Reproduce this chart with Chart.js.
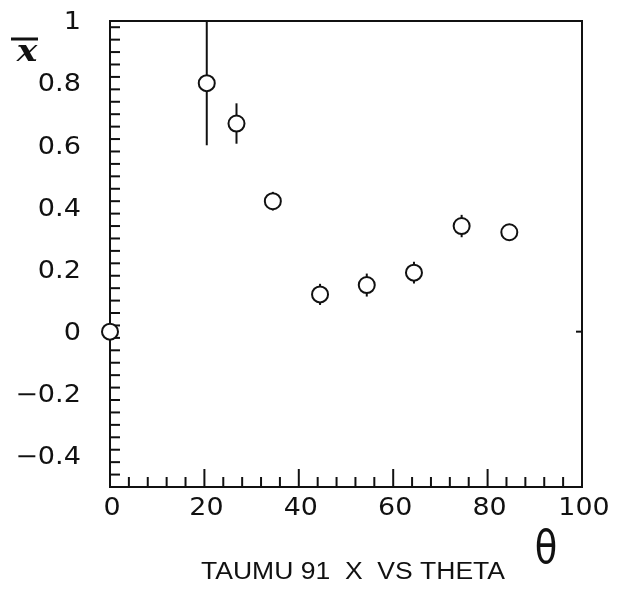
<!DOCTYPE html>
<html>
<head>
<meta charset="utf-8">
<script src="https://cdn.jsdelivr.net/npm/chart.js@4.4.1/dist/chart.umd.min.js"></script>
<style>
  html, body { margin: 0; padding: 0; background: #fff; }
  #wrap { width: 619px; height: 597px; }
</style>
</head>
<body>
<div id="wrap"><canvas id="plot"></canvas></div>
<script>
// measured values: theta (deg), mean x, error
const theta = [0, 20.5, 26.8, 34.5, 44.5, 54.4, 64.4, 74.5, 84.6];
const xbar = [0, 0.80, 0.67, 0.42, 0.12, 0.15, 0.19, 0.34, 0.32];
const xerr = [0, 0.20, 0.065, 0.03, 0.034, 0.037, 0.035, 0.036, 0];

const xTicks = [0, 20, 40, 60, 80, 100];
const yTicks = [1, 0.8, 0.6, 0.4, 0.2, 0, -0.2, -0.4];
const xMinorStep = 4;
const yMinorStep = 0.04;

const FONT = '"DejaVu Sans", sans-serif';

// text squeezed or stretched horizontally around its anchor
function wideText(ctx, s, x, y, sx, align) {
    const w = ctx.measureText(s).width * sx;
    let left = x;
    if (align === 'right') left = x - w;
    else if (align === 'center') left = x - w / 2;
    ctx.save();
    ctx.translate(left, y);
    ctx.scale(sx, 1);
    ctx.textAlign = 'left';
    ctx.fillText(s, 0, 0);
    ctx.restore();
}

// frame, inward ticks, labels and error bars
const framePlugin = {
    id: 'frame',
    beforeDatasetsDraw(chart) {
        const ctx = chart.ctx;
        const xs = chart.scales.x, ys = chart.scales.y;
        const a = chart.chartArea;
        ctx.save();
        ctx.strokeStyle = '#111';
        ctx.lineWidth = 2;

        // error bars, clipped to the frame
        ctx.save();
        ctx.beginPath();
        ctx.rect(a.left, a.top, a.right - a.left, a.bottom - a.top);
        ctx.clip();
        theta.forEach((t, i) => {
            if (!xerr[i]) return;
            const px = xs.getPixelForValue(t);
            ctx.beginPath();
            ctx.moveTo(px, ys.getPixelForValue(xbar[i] + xerr[i]));
            ctx.lineTo(px, ys.getPixelForValue(xbar[i] - xerr[i]));
            ctx.stroke();
        });
        ctx.restore();

        // box
        ctx.strokeRect(a.left, a.top, a.right - a.left, a.bottom - a.top);

        // y ticks on the left axis
        for (let k = 0; k <= Math.round(1.5 / yMinorStep); k++) {
            const r = Math.round((-0.5 + k * yMinorStep) * 100) / 100;
            if (r > 1) break;
            if (Math.abs(r + 0.5) < 1e-6 || Math.abs(r - 1) < 1e-6) continue;
            const major = Math.abs(r * 5 - Math.round(r * 5)) < 1e-6;
            const py = ys.getPixelForValue(r);
            ctx.beginPath();
            ctx.moveTo(a.left, py);
            ctx.lineTo(a.left + (major ? 18 : 10), py);
            ctx.stroke();
        }
        // x ticks on the bottom axis
        for (let v = xMinorStep; v < 100; v += xMinorStep) {
            const px = xs.getPixelForValue(v);
            const major = v % 20 === 0;
            ctx.beginPath();
            ctx.moveTo(px, a.bottom);
            ctx.lineTo(px, a.bottom - (major ? 18 : 10));
            ctx.stroke();
        }
        // zero mark on the right edge
        const y0 = ys.getPixelForValue(0);
        ctx.beginPath();
        ctx.moveTo(a.right, y0);
        ctx.lineTo(a.right - 6, y0);
        ctx.stroke();

        // tick labels
        ctx.fillStyle = '#111';
        ctx.font = '24px ' + FONT;
        ctx.textBaseline = 'middle';
        yTicks.forEach(v => {
            const s = v < 0 ? '\u2212' + Math.abs(v) : String(v);
            wideText(ctx, s, a.left - 29, ys.getPixelForValue(v) + 2, 1.13, 'right');
        });
        xTicks.forEach(v => {
            wideText(ctx, String(v), xs.getPixelForValue(v) + 2, a.bottom + 22, 1.12, 'center');
        });

        // axis names
        ctx.font = 'bold italic 30px "DejaVu Serif", serif';
        wideText(ctx, 'x', 27, 53, 1.15, 'center');
        ctx.lineWidth = 3;
        ctx.beginPath();
        ctx.moveTo(11, 39);
        ctx.lineTo(38, 39);
        ctx.stroke();

        ctx.font = '46px "DejaVu Sans", sans-serif';
        wideText(ctx, '\u03B8', 546, 551, 0.8, 'center');

        // caption
        ctx.font = '23px "Liberation Sans", sans-serif';
        const cap = 'TAUMU 91  X  VS THETA';
        const w = ctx.measureText(cap).width;
        wideText(ctx, cap, 201, 573, 304 / w, 'left');

        ctx.restore();
    }
};

new Chart(document.getElementById('plot'), {
    type: 'scatter',
    data: {
        datasets: [{
            data: theta.map((t, i) => ({ x: t, y: xbar[i] })),
            pointStyle: 'circle',
            pointRadius: 8,
            pointHoverRadius: 8,
            pointBackgroundColor: '#fff',
            pointBorderColor: '#111',
            pointBorderWidth: 2,
            clip: false
        }]
    },
    options: {
        responsive: true,
        maintainAspectRatio: false,
        animation: false,
        events: [],
        layout: { padding: { left: 110, right: 37, top: 21, bottom: 110 } },
        plugins: { legend: { display: false }, tooltip: { enabled: false } },
        scales: {
            x: { type: 'linear', min: 0, max: 100, display: false },
            y: { type: 'linear', min: -0.5, max: 1, display: false }
        }
    },
    plugins: [framePlugin]
});
</script>
</body>
</html>
